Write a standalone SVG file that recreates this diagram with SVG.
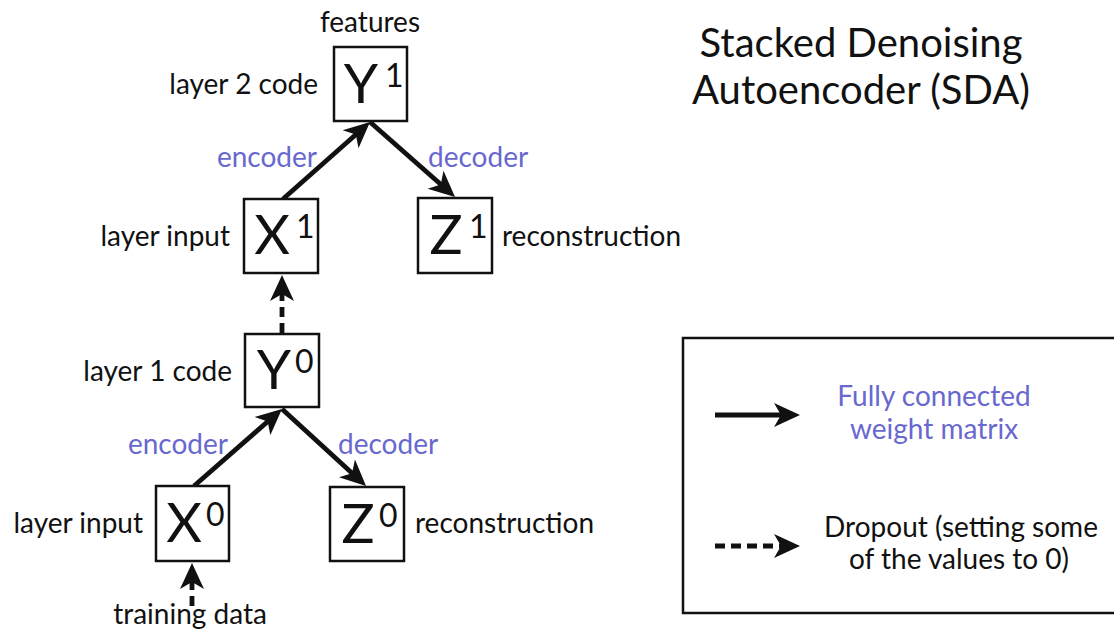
<svg xmlns="http://www.w3.org/2000/svg" width="1114" height="633" viewBox="0 0 1114 633">
  <style>
    .lbl { font-family: Lato, "Noto Sans", "Liberation Sans", sans-serif; font-size: 28px; fill: #111; }
    .blue { fill: #6868cf; }
    .title { font-family: Lato, "Noto Sans", "Liberation Sans", sans-serif; font-size: 40px; fill: #111; }
    .box { fill: #fff; stroke: #111; stroke-width: 2.5; }
    .sym { font-family: Lato, "Noto Sans", "Liberation Sans", sans-serif; font-size: 55px; fill: #111; }
    .sup { font-family: Lato, "Noto Sans", "Liberation Sans", sans-serif; font-size: 32px; fill: #111; }
    .edge { fill: none; stroke: #111; stroke-width: 4.8; marker-end: url(#head); }
    .dash { stroke-dasharray: 10 6; }
  </style>
  <defs>
    <marker id="head" markerUnits="userSpaceOnUse" viewBox="0 0 26 26" markerWidth="26" markerHeight="26" refX="9" refY="13" orient="auto">
      <path d="M0,1 L26,13 L0,25 L7,13 Z" fill="#111"/>
    </marker>
  </defs>

  <rect width="1114" height="633" fill="#fff"/>

  <!-- title -->
  <g id="title">
    <text class="title" x="861" y="57" text-anchor="middle">Stacked Denoising</text>
    <text class="title" x="861" y="104" text-anchor="middle">Autoencoder (SDA)</text>
  </g>

  <!-- connectors -->
  <g id="connectors">
    <line class="edge" x1="283" y1="199" x2="357.3" y2="133.3"/>
    <line class="edge" x1="370" y1="122" x2="442.3" y2="185.8"/>
    <line class="edge" x1="194" y1="486" x2="269.2" y2="420.2"/>
    <line class="edge" x1="282" y1="409" x2="353.5" y2="474.5"/>
    <line class="edge dash" x1="282" y1="333" x2="282" y2="292"/>
    <line class="edge dash" x1="192" y1="606" x2="192" y2="580"/>
  </g>

  <!-- edge labels -->
  <g id="edge-labels">
    <text class="lbl blue" x="317" y="167" text-anchor="end">encoder</text>
    <text class="lbl blue" x="428" y="167">decoder</text>
    <text class="lbl blue" x="228" y="454" text-anchor="end">encoder</text>
    <text class="lbl blue" x="338" y="454">decoder</text>
  </g>

  <!-- nodes -->
  <g id="node-y1">
    <rect class="box" x="334" y="47" width="73" height="74"/>
    <text class="sym" x="361" y="103" text-anchor="middle">Y</text>
    <text class="sup" x="385" y="87">1</text>
    <text class="lbl" x="370" y="32" text-anchor="middle">features</text>
    <text class="lbl" x="318" y="94" text-anchor="end">layer 2 code</text>
  </g>
  <g id="node-x1">
    <rect class="box" x="244" y="199" width="74" height="74"/>
    <text class="sym" x="272" y="254" text-anchor="middle">X</text>
    <text class="sup" x="296" y="238">1</text>
    <text class="lbl" x="230" y="246" text-anchor="end">layer input</text>
  </g>
  <g id="node-z1">
    <rect class="box" x="418" y="198" width="74" height="75"/>
    <text class="sym" x="446" y="254" text-anchor="middle">Z</text>
    <text class="sup" x="469" y="238">1</text>
    <text class="lbl" x="502" y="246">reconstruction</text>
  </g>
  <g id="node-y0">
    <rect class="box" x="245" y="334" width="74" height="73"/>
    <text class="sym" x="274" y="389" text-anchor="middle">Y</text>
    <text class="sup" x="295" y="373">0</text>
    <text class="lbl" x="232" y="381" text-anchor="end">layer 1 code</text>
  </g>
  <g id="node-x0">
    <rect class="box" x="156" y="486" width="73" height="75"/>
    <text class="sym" x="184" y="542" text-anchor="middle">X</text>
    <text class="sup" x="206" y="526">0</text>
    <text class="lbl" x="143" y="533" text-anchor="end">layer input</text>
    <text class="lbl" x="190" y="624" text-anchor="middle">training data</text>
  </g>
  <g id="node-z0">
    <rect class="box" x="330" y="487" width="74" height="74"/>
    <text class="sym" x="358" y="543" text-anchor="middle">Z</text>
    <text class="sup" x="379" y="527">0</text>
    <text class="lbl" x="415" y="533">reconstruction</text>
  </g>

  <!-- legend -->
  <g id="legend">
    <rect class="box" x="683" y="338" width="440" height="275"/>
    <line class="edge" x1="715" y1="415" x2="783" y2="415"/>
    <line class="edge dash" x1="715" y1="546" x2="783" y2="546"/>
    <text class="lbl blue" x="934" y="406" text-anchor="middle">Fully connected</text>
    <text class="lbl blue" x="934" y="439" text-anchor="middle">weight matrix</text>
    <text class="lbl" x="961" y="537" text-anchor="middle">Dropout (setting some</text>
    <text class="lbl" x="959" y="569" text-anchor="middle">of the values to 0)</text>
  </g>
</svg>
